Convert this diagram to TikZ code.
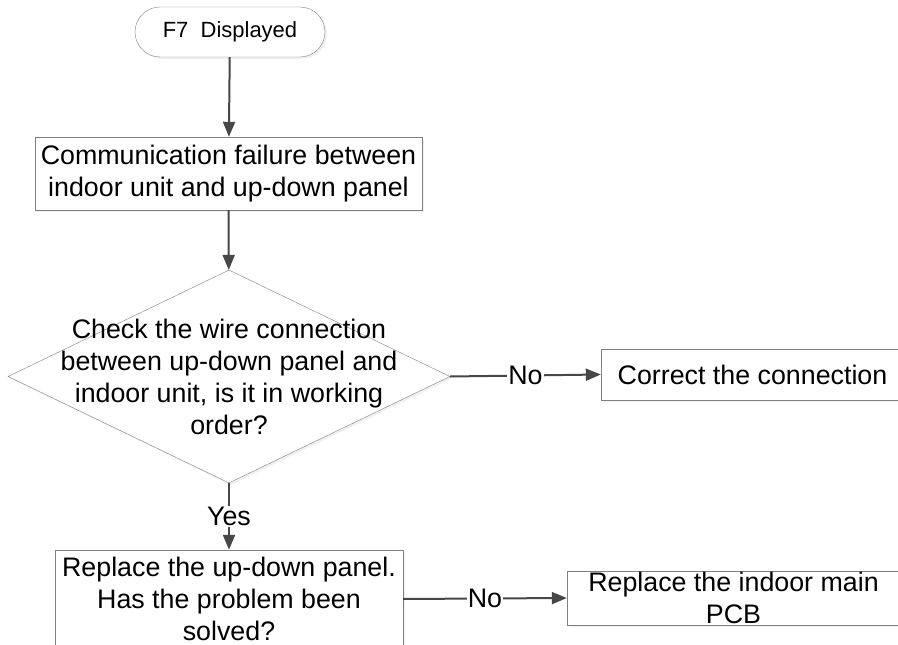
\documentclass[tikz,border=0pt]{standalone}
\usepackage{fontspec}
\setmainfont{Liberation Sans}
\usetikzlibrary{shapes.geometric,arrows.meta,shadows}

\begin{document}
\begin{tikzpicture}[x=1pt,y=-1pt,
    font=\fontsize{26.8}{32}\selectfont,
    box/.style={draw=black!50,thin,fill=white,align=center,inner sep=0pt,
                drop shadow={opacity=0.12,shadow xshift=2pt,shadow yshift=-2pt}},
    decision/.style={box,diamond,aspect=2.075,inner sep=-40pt},
    flow/.style={draw=black!72,line width=2pt,-{Triangle[length=15pt,width=12pt]}},
    answer/.style={fill=white,inner sep=1pt}]
  \useasboundingbox (0,0) rectangle (898,645);
  \clip (0,0) rectangle (898,645);

  \node[box,rounded corners=25pt,minimum width=190pt,minimum height=50pt,
        font=\fontsize{22}{26}\selectfont] (start) at (230,32) {F7\ \ Displayed};
  \node[box,minimum width=387pt,minimum height=73pt] (fail) at (228.5,173.5)
    {Communication failure between\\indoor unit and up-down panel};
  \node[decision,minimum width=442pt,minimum height=213pt] (check) at (229,376.5)
    {Check the wire connection\\between up-down panel and\\indoor unit, is it in working\\order?};
  \node[box,minimum width=303pt,minimum height=51pt] (fix) at (752.5,374.5)
    {Correct the connection};
  \node[box,minimum width=348pt,minimum height=98pt] (replace) at (229,599)
    {Replace the up-down panel.\\Has the problem been\\solved?};
  \node[box,minimum width=333pt,minimum height=54pt] (pcb) at (733.5,598)
    {Replace the indoor main\\PCB};

  \draw[flow] (start) -- (fail);
  \draw[flow] (fail) -- (check);
  \draw[flow] (check.east) -- node[answer] {No} (fix.west);
  \draw[flow] (check.south) -- node[answer] {Yes} (replace.north);
  \draw[flow] (replace.east) -- node[answer] {No} (pcb.west);
\end{tikzpicture}
\end{document}
